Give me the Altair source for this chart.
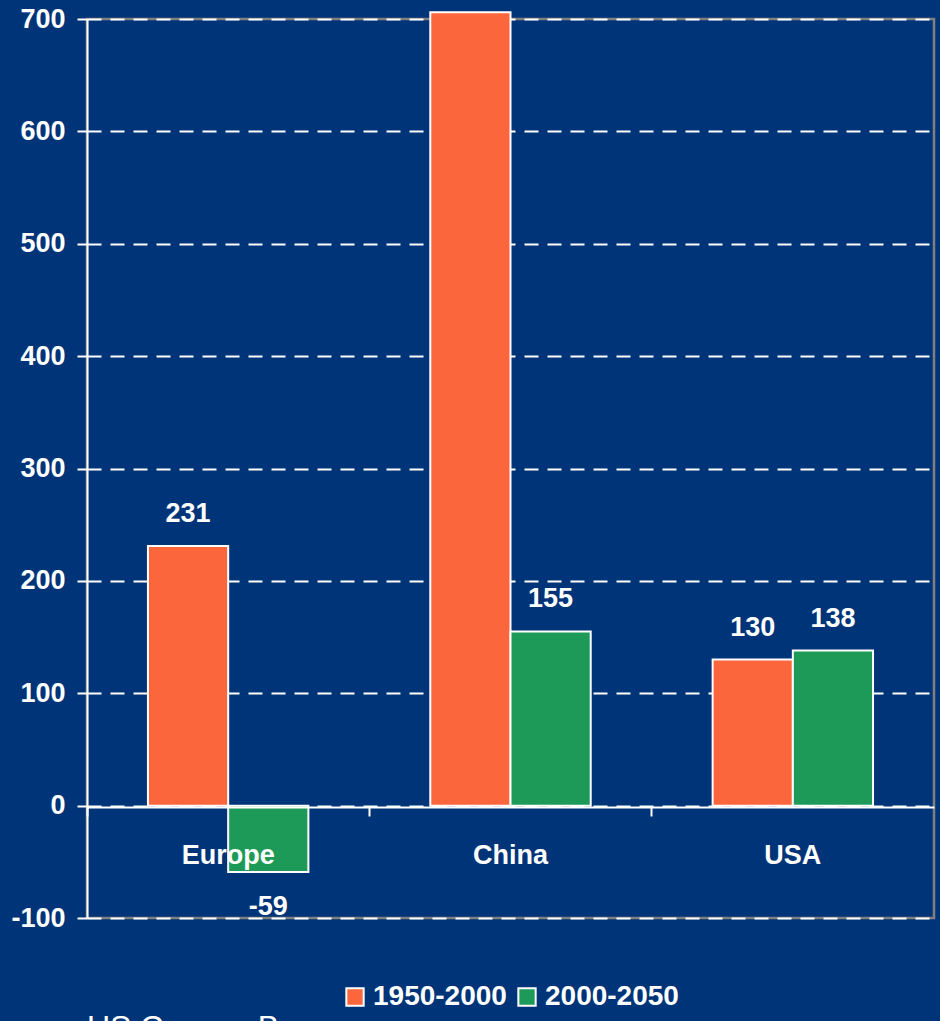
import altair as alt
import pandas as pd

regions = ["Europe", "China", "USA"]
periods = ["1950-2000", "2000-2050"]
growth_1950_2000 = [231, 706, 130]
growth_2000_2050 = [-59, 155, 138]
y_ticks = [-100, 0, 100, 200, 300, 400, 500, 600, 700]

rows = []
for r, a, b in zip(regions, growth_1950_2000, growth_2000_2050):
    rows.append({"region": r, "period": periods[0], "value": a})
    rows.append({"region": r, "period": periods[1], "value": b})
df = pd.DataFrame(rows)

BG = "#003478"
WHITE = "#ffffff"
FONT = "Liberation Sans"
FS = 27

x_enc = alt.X("region:N", sort=regions,
              scale=alt.Scale(paddingInner=0, paddingOuter=0),
              axis=alt.Axis(title=None, offset=-111, domainColor=WHITE, domainWidth=2,
                            tickColor=WHITE, tickWidth=2, tickSize=9, bandPosition=0,
                            labelPadding=26, labelAngle=0,
                            labelColor=WHITE, labelFont=FONT, labelFontSize=FS,
                            labelFontWeight="bold", zindex=1, grid=False))
xo_enc = alt.XOffset("period:N", sort=periods,
                     scale=alt.Scale(paddingOuter=0.76, paddingInner=0))
y_scale = alt.Scale(domain=[-100, 700], nice=False, zero=False)

bars = alt.Chart(df).mark_bar(stroke=WHITE, strokeWidth=2).encode(
    x=x_enc,
    xOffset=xo_enc,
    y=alt.Y("value:Q", scale=y_scale,
            axis=alt.Axis(title=None, values=y_ticks, domainColor=WHITE, domainWidth=2,
                          tickColor=WHITE, tickWidth=2, tickSize=10,
                          labelExpr="'' + datum.value",
                          labelColor=WHITE, labelFont=FONT, labelFontSize=FS,
                          labelFontWeight="bold", labelPadding=12,
                          grid=True, gridColor=WHITE, gridWidth=2.2,
                          gridDash=[14, 9], gridOpacity=1)),
    color=alt.Color("period:N", sort=periods,
                    scale=alt.Scale(domain=periods, range=["#FC663C", "#1E9A58"]),
                    legend=alt.Legend(title=None, orient="none", direction="horizontal",
                                      legendX=254, legendY=964,
                                      symbolType="square", symbolSize=300,
                                      symbolStrokeColor=WHITE, symbolStrokeWidth=2,
                                      labelColor=WHITE, labelFont=FONT, labelFontSize=28,
                                      labelFontWeight="bold", columnPadding=6,
                                      labelOffset=4)),
)

pos_labels = alt.Chart(df).transform_filter(
    "datum.value >= 0 && datum.value <= 700"
).transform_calculate(label="'' + datum.value").mark_text(
    color=WHITE, font=FONT, fontSize=FS, fontWeight="bold",
    baseline="bottom", dy=-18).encode(
    x=alt.X("region:N", sort=regions),
    xOffset=alt.XOffset("period:N", sort=periods),
    y=alt.Y("value:Q", scale=y_scale),
    text=alt.Text("label:N"),
)

neg_labels = alt.Chart(df).transform_filter(
    "datum.value < 0"
).transform_calculate(label="'' + datum.value").mark_text(
    color=WHITE, font=FONT, fontSize=FS, fontWeight="bold",
    baseline="top", dy=22).encode(
    x=alt.X("region:N", sort=regions),
    xOffset=alt.XOffset("period:N", sort=periods),
    y=alt.Y("value:Q", scale=y_scale),
    text=alt.Text("label:N"),
)

chart = alt.layer(bars, pos_labels, neg_labels).properties(
    width=847, height=899,
    background=BG,
    autosize=alt.AutoSizeParams(type="none"),
    padding={"left": 87, "top": 19, "right": 6, "bottom": 103},
    title=alt.TitleParams("US Census Bureau", orient="bottom", anchor="start", frame="group",
                          color=WHITE, font=FONT, fontSize=32, fontWeight="normal", offset=2),
).configure_view(stroke="#808080", strokeWidth=2.5)

chart.save("out.html", embed_options={"renderer": "svg", "actions": False})
